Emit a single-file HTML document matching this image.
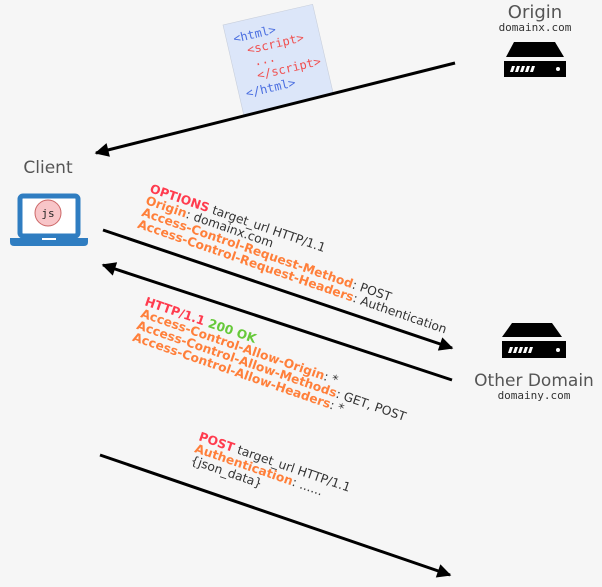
<!DOCTYPE html>
<html><head><meta charset="utf-8"><style>
html,body{margin:0;padding:0;background:#f6f6f6;}
svg{display:block;}
.b{font-family:"DejaVu Sans","Liberation Sans",sans-serif;font-size:12.3px;font-weight:bold;}
.n{font-weight:normal;fill:#333;}
.r{fill:#ff3b4e}.o{fill:#ff7f3a}.g{fill:#66c93a}
</style></head><body>
<svg width="602" height="587" viewBox="0 0 602 587" xmlns="http://www.w3.org/2000/svg">
<defs>
<marker id="ah" viewBox="0 0 10 10" markerWidth="17" markerHeight="14" refX="9" refY="5" orient="auto" markerUnits="userSpaceOnUse"><path d="M0,0 L10,5 L0,10 z" fill="#000"/></marker></defs>
<rect width="602" height="587" fill="#f6f6f6"/>
<!-- paper -->
<g transform="translate(223,25) rotate(-13)">
<rect x="0" y="0" width="92" height="92" fill="#dce6f9" stroke="#c8cfdc" stroke-width="0.6"/>
<g font-family="'DejaVu Sans Mono',monospace" font-size="12">
<text x="7" y="20" fill="#4a6ee0">&lt;html&gt;</text>
<text x="18" y="34" fill="#f05050">&lt;script&gt;</text>
<text x="22" y="47" fill="#f05050">...</text>
<text x="22" y="61" fill="#f05050">&lt;/script&gt;</text>
<text x="7" y="76" fill="#4a6ee0">&lt;/html&gt;</text>
</g></g>
<!-- arrows -->
<g stroke="#000" stroke-width="3" fill="none">
<line x1="455" y1="63" x2="96" y2="153" marker-end="url(#ah)"/>
<line x1="103" y1="230" x2="452" y2="348" marker-end="url(#ah)"/>
<line x1="452" y1="380" x2="103" y2="265" marker-end="url(#ah)"/>
<line x1="100" y1="455" x2="450" y2="575" marker-end="url(#ah)"/>
</g>
<!-- origin -->
<text x="535" y="18" text-anchor="middle" font-family="'DejaVu Sans',sans-serif" font-size="18" fill="#555">Origin</text>
<text x="535" y="31" text-anchor="middle" font-family="'DejaVu Sans Mono',monospace" font-size="11" fill="#333">domainx.com</text>
<path d="M514,42 L555,42 L564,57 L506,57 z" fill="#000"/>
<rect x="504" y="61" width="62" height="16" fill="#000"/>
<g fill="#fff"><path d="M512,66 h3 l-2,6 h-3z M517,66 h3 l-2,6 h-3z M522,66 h3 l-2,6 h-3z M527,66 h3 l-2,6 h-3z M532,66 h3 l-2,6 h-3z"/><circle cx="558" cy="69" r="2"/></g>
<!-- other domain -->
<path d="M512,323 L552,323 L562,337 L502,337 z" fill="#000"/>
<rect x="502" y="341" width="64" height="17" fill="#000"/>
<g fill="#fff"><path d="M510,347 h3 l-2,6 h-3z M515,347 h3 l-2,6 h-3z M520,347 h3 l-2,6 h-3z M525,347 h3 l-2,6 h-3z M530,347 h3 l-2,6 h-3z"/><circle cx="558" cy="350" r="2"/></g>
<text x="534" y="386" text-anchor="middle" font-family="'DejaVu Sans',sans-serif" font-size="17" fill="#555">Other Domain</text>
<text x="534" y="399" text-anchor="middle" font-family="'DejaVu Sans Mono',monospace" font-size="11" fill="#333">domainy.com</text>
<!-- client -->
<text x="48" y="173" text-anchor="middle" font-family="'DejaVu Sans',sans-serif" font-size="17" fill="#555">Client</text>
<rect x="20" y="196" width="58" height="40" rx="3" fill="#fff" stroke="#2f7dc1" stroke-width="5"/>
<path d="M10,238 h78 v4 q0,4 -4,4 h-70 q-4,0 -4,-4z" fill="#2f7dc1"/>
<rect x="42" y="238" width="14" height="2" fill="#fff"/>
<circle cx="48" cy="213" r="13" fill="#f8c5c8" stroke="#c66" stroke-width="1"/>
<text x="48" y="217" text-anchor="middle" font-family="'DejaVu Sans Mono',monospace" font-size="11" fill="#222">js</text>
<!-- request -->
<g class="b" transform="translate(149,192) rotate(19)">
<text x="0" y="0"><tspan class="r">OPTIONS</tspan><tspan class="n"> target_url HTTP/1.1</tspan></text>
<text x="0" y="12.5"><tspan class="o">Origin</tspan><tspan class="n">: domainx.com</tspan></text>
<text x="0" y="25"><tspan class="o">Access-Control-Request-Method</tspan><tspan class="n">: POST</tspan></text>
<text x="0" y="37.5"><tspan class="o">Access-Control-Request-Headers</tspan><tspan class="n">: Authentication</tspan></text>
</g>
<g class="b" transform="translate(144,305) rotate(19)">
<text x="0" y="0"><tspan class="r">HTTP/1.1</tspan> <tspan class="g">200 OK</tspan></text>
<text x="0" y="12.5"><tspan class="o">Access-Control-Allow-Origin</tspan><tspan class="n">: *</tspan></text>
<text x="0" y="25"><tspan class="o">Access-Control-Allow-Methods</tspan><tspan class="n">: GET, POST</tspan></text>
<text x="0" y="37.5"><tspan class="o">Access-Control-Allow-Headers</tspan><tspan class="n">: *</tspan></text>
</g>
<g class="b" transform="translate(198,440) rotate(19)">
<text x="0" y="0"><tspan class="r">POST</tspan><tspan class="n"> target_url HTTP/1.1</tspan></text>
<text x="0" y="12.5"><tspan class="o">Authentication</tspan><tspan class="n">: ......</tspan></text>
<text x="0" y="25"><tspan class="n">{json_data}</tspan></text>
</g>
</svg>
</body></html>
